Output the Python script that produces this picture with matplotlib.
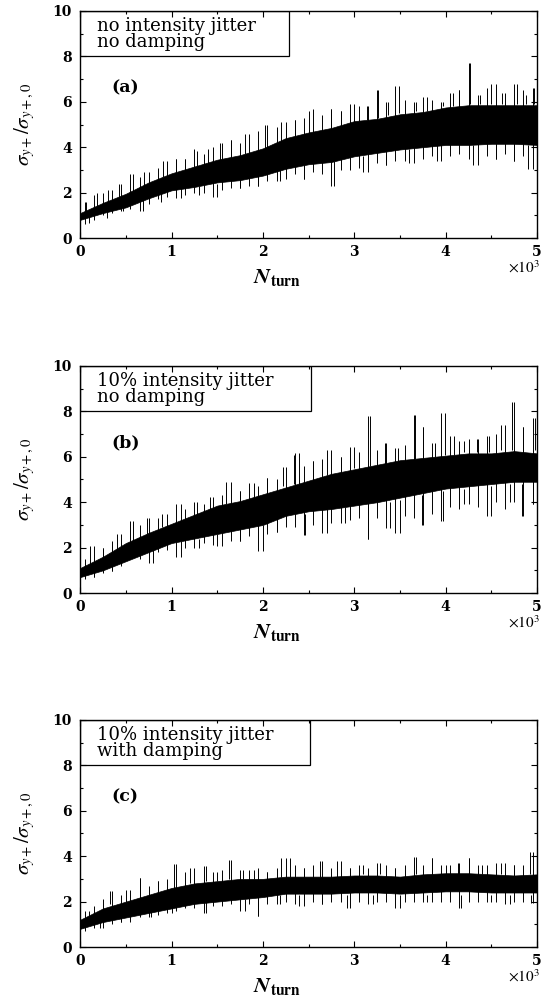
import matplotlib
matplotlib.use('Agg')
import numpy as np
import matplotlib.pyplot as plt
from matplotlib.patches import Rectangle
from matplotlib.ticker import MultipleLocator, FuncFormatter

plt.rcParams['mathtext.fontset'] = 'stix'
plt.rcParams['font.family'] = ['DejaVu Serif', 'Liberation Serif']

# sample positions for the dense part of the trace (turns)
core_x = [0, 250, 500, 750, 1000, 1250, 1500, 1750, 2000, 2250, 2500,
          2750, 3000, 3250, 3500, 3750, 4000, 4250, 4500, 4750, 5000]
# 100-turn bins: min / max of the trace inside each bin
bin_x = np.arange(50, 5000, 100)

# panel (a): no intensity jitter, no damping
a_lo = [0.8, 1.1, 1.35, 1.75, 2.1, 2.25, 2.45, 2.55, 2.75, 3.05, 3.25,
        3.35, 3.6, 3.75, 3.9, 4.0, 4.1, 4.1, 4.15, 4.15, 4.1]
a_hi = [1.1, 1.55, 1.95, 2.45, 2.85, 3.15, 3.45, 3.65, 3.95, 4.4, 4.65,
        4.85, 5.15, 5.25, 5.45, 5.55, 5.75, 5.85, 5.85, 5.85, 5.85]
a_bin_hi = [1.6, 1.9, 2.0, 2.1, 2.4, 2.8, 2.7, 2.9, 3.1, 3.4,
            3.5, 3.5, 3.9, 3.7, 4.0, 4.2, 4.3, 4.2, 4.6, 4.7,
            5.0, 4.9, 5.1, 5.2, 5.3, 5.7, 5.4, 5.7, 5.6, 5.9,
            5.8, 5.8, 6.5, 6.0, 6.7, 6.1, 6.0, 6.2, 6.1, 6.0,
            6.4, 6.5, 7.7, 6.3, 6.6, 6.8, 6.4, 6.8, 6.5, 6.6]
a_bin_lo = [0.6, 0.8, 1.0, 1.1, 1.2, 1.3, 1.2, 1.5, 1.7, 1.8,
            1.75, 1.9, 2.0, 2.0, 1.8, 2.1, 2.2, 2.2, 2.3, 2.3,
            2.5, 2.5, 2.6, 2.8, 2.6, 2.9, 2.8, 2.3, 3.0, 3.0,
            3.1, 2.9, 3.3, 3.2, 3.4, 3.4, 3.3, 3.5, 3.6, 3.4,
            3.6, 3.7, 3.5, 3.2, 3.6, 3.5, 3.7, 3.4, 3.6, 3.05]
a_spk_x = [60, 180, 300, 420, 580, 700, 910, 1050, 1150, 1280, 1400, 1530, 1650, 1800,
           2020, 2200, 2350, 2500, 2740, 2850, 3000, 3140, 3260, 3370, 3490, 3670,
           3800, 3970, 4080, 4150, 4270, 4380, 4500, 4620, 4780, 4880, 4970,
           100, 290, 470, 690, 880, 1100, 1300, 1500, 1750, 1950, 2190, 2450, 2780,
           3100, 3350, 3600, 3900, 4300, 4550, 4750, 4900]
a_spk_lo = [1.0, 1.3, 1.5, 1.7, 2.0, 2.2, 2.7, 2.8, 2.9, 3.1, 3.2, 3.4, 3.5, 3.7,
            3.9, 4.2, 4.4, 4.6, 4.8, 4.9, 5.1, 5.2, 5.3, 5.4, 5.5, 5.6,
            5.6, 5.8, 5.8, 5.9, 5.9, 5.9, 5.9, 5.9, 5.9, 5.9, 5.9,
            0.65, 0.9, 1.2, 1.2, 1.6, 1.75, 1.9, 1.8, 2.2, 2.3, 2.5, 2.6, 2.3,
            2.9, 3.2, 3.3, 3.4, 3.2, 3.5, 3.4, 3.05]
a_spk_hi = [1.6, 2.0, 2.1, 2.4, 2.8, 2.9, 3.4, 3.5, 3.5, 3.85, 3.9, 4.2, 4.3, 4.6,
            5.0, 5.1, 5.2, 5.6, 5.7, 5.6, 5.9, 5.8, 6.5, 6.0, 6.7, 6.0,
            6.2, 6.0, 6.4, 6.5, 7.7, 6.3, 6.8, 6.4, 6.8, 6.3, 6.6,
            1.0, 1.2, 1.4, 1.7, 2.0, 2.2, 2.3, 2.4, 2.6, 2.7, 3.0, 3.2, 3.4,
            3.6, 3.7, 3.9, 4.1, 4.1, 4.1, 4.1, 4.1]

# panel (b): 10% intensity jitter, no damping
b_lo = [0.7, 1.0, 1.4, 1.8, 2.2, 2.4, 2.6, 2.8, 3.0, 3.4, 3.6,
        3.7, 3.85, 4.0, 4.2, 4.4, 4.6, 4.7, 4.8, 4.9, 4.9]
b_hi = [1.1, 1.6, 2.2, 2.65, 3.05, 3.45, 3.85, 4.05, 4.35, 4.65, 4.95,
        5.25, 5.45, 5.65, 5.85, 5.95, 6.05, 6.15, 6.15, 6.25, 6.15]
b_bin_hi = [1.5, 2.05, 2.0, 2.3, 2.6, 3.15, 3.0, 3.3, 3.3, 3.5,
            3.9, 3.7, 4.0, 3.9, 4.25, 4.3, 4.9, 4.5, 4.85, 4.7,
            5.05, 5.0, 5.57, 6.15, 5.6, 5.8, 5.9, 6.3, 6.0, 6.45,
            6.2, 7.8, 6.3, 6.6, 6.4, 6.5, 7.85, 7.3, 6.6, 7.95,
            6.9, 6.7, 6.8, 6.8, 6.9, 7.0, 7.4, 8.4, 7.3, 7.7]
b_bin_lo = [0.6, 0.7, 0.9, 0.95, 1.2, 1.5, 1.5, 1.3, 1.8, 1.9,
            1.6, 2.0, 2.0, 2.2, 2.1, 2.05, 2.3, 2.3, 2.5, 1.83,
            2.6, 2.7, 2.9, 2.9, 2.55, 3.0, 2.65, 3.1, 3.1, 3.2,
            3.3, 2.4, 3.3, 2.85, 2.65, 3.4, 3.3, 3.0, 3.5, 3.15,
            3.8, 3.7, 3.9, 3.8, 3.4, 4.0, 3.7, 4.0, 3.4, 3.9]
b_spk_x = [110, 250, 400, 580, 730, 900, 1100, 1280, 1420, 1600, 1750, 1900, 2050,
           2220, 2340, 2390, 2550, 2700, 2850, 3000, 3170, 3340, 3480, 3660, 3750,
           3880, 3990, 4090, 4200, 4340, 4470, 4600, 4730, 4850, 4980,
           150, 350, 800, 1100, 1300, 1500, 1750, 2000, 2150, 2460, 2700, 2900,
           3150, 3390, 3500, 3740, 3970, 4200, 4500, 4700, 4840, 4960]
b_spk_lo = [1.1, 1.5, 1.9, 2.2, 2.6, 2.9, 3.1, 3.4, 3.7, 3.9, 4.0, 4.2, 4.4,
            4.7, 4.8, 4.8, 5.0, 5.2, 5.4, 5.5, 5.6, 5.7, 5.8, 5.9, 6.0,
            6.0, 6.1, 6.1, 6.2, 6.2, 6.2, 6.3, 6.3, 6.3, 6.3,
            0.7, 0.95, 1.3, 1.6, 2.0, 2.05, 2.3, 1.83, 2.7, 2.55, 2.65, 3.1,
            2.4, 2.85, 2.65, 3.0, 3.15, 3.9, 3.4, 4.0, 3.4, 3.9]
b_spk_hi = [2.05, 2.0, 2.6, 3.15, 3.3, 3.5, 3.9, 4.0, 4.25, 4.9, 4.5, 4.85, 5.05,
            5.57, 6.1, 6.15, 5.8, 6.3, 6.0, 6.45, 7.8, 6.6, 6.4, 7.85, 7.3,
            6.6, 7.95, 6.9, 6.7, 6.8, 6.9, 7.4, 8.4, 7.3, 7.7,
            0.9, 1.2, 1.9, 2.3, 2.4, 2.6, 2.8, 3.0, 3.2, 3.5, 3.7, 3.8,
            3.9, 4.0, 4.1, 4.3, 4.5, 4.6, 4.7, 4.8, 4.8, 4.8]

# panel (c): 10% intensity jitter, with damping
c_lo = [0.8, 1.1, 1.3, 1.5, 1.7, 1.9, 2.0, 2.1, 2.2, 2.35, 2.35,
        2.35, 2.4, 2.4, 2.35, 2.4, 2.45, 2.45, 2.4, 2.4, 2.4]
c_hi = [1.2, 1.7, 2.0, 2.3, 2.6, 2.8, 2.9, 3.0, 3.0, 3.1, 3.1,
        3.1, 3.15, 3.15, 3.1, 3.2, 3.25, 3.25, 3.2, 3.15, 3.2]
c_bin_hi = [1.6, 1.8, 2.1, 2.45, 2.3, 2.5, 3.05, 2.7, 2.9, 3.0,
            3.65, 3.3, 3.5, 3.55, 3.3, 3.4, 3.85, 3.4, 3.4, 3.5,
            3.3, 3.5, 3.9, 3.6, 3.5, 3.6, 3.8, 3.5, 3.8, 3.5,
            3.6, 3.5, 3.7, 3.6, 3.5, 3.6, 3.95, 3.6, 3.9, 3.6,
            3.6, 3.7, 3.9, 3.6, 3.6, 3.7, 3.7, 3.6, 3.6, 4.2]
c_bin_lo = [0.7, 0.85, 0.85, 1.0, 1.1, 1.1, 1.3, 1.3, 1.4, 1.5,
            1.6, 1.7, 1.7, 1.5, 1.8, 1.8, 1.9, 1.6, 1.9, 1.35,
            1.9, 1.9, 2.0, 1.9, 1.8, 2.0, 1.9, 2.0, 2.0, 1.7,
            2.0, 1.9, 2.0, 2.0, 1.7, 2.0, 2.0, 2.0, 2.0, 2.0,
            2.0, 1.7, 2.0, 2.0, 2.0, 2.0, 1.9, 2.0, 2.0, 1.95]
c_spk_x = [100, 330, 500, 660, 850, 1030, 1200, 1380, 1500, 1630, 1780, 1900, 2050,
           2200, 2300, 2450, 2620, 2810, 2950, 3100, 3280, 3450, 3670, 3850, 4000,
           4130, 4260, 4400, 4600, 4750, 4920,
           220, 450, 780, 1000, 1380, 1800, 1950, 2190, 2400, 2650, 2920, 3200,
           3500, 3800, 4170, 4500, 4700, 4930]
c_spk_lo = [1.2, 1.9, 2.0, 2.3, 2.5, 2.6, 2.8, 2.9, 2.9, 3.0, 3.0, 3.0, 3.0,
            3.1, 3.1, 3.1, 3.1, 3.1, 3.2, 3.2, 3.2, 3.2, 3.2, 3.2, 3.2,
            3.2, 3.2, 3.2, 3.2, 3.2, 3.2,
            0.85, 1.1, 1.3, 1.5, 1.5, 1.6, 1.35, 1.9, 1.8, 1.9, 1.7, 1.9,
            1.7, 2.0, 1.7, 2.0, 1.9, 1.95]
c_spk_hi = [1.6, 2.45, 2.5, 3.05, 2.9, 3.65, 3.5, 3.55, 3.3, 3.85, 3.4, 3.4, 3.3,
            3.9, 3.9, 3.5, 3.8, 3.8, 3.5, 3.6, 3.7, 3.5, 3.95, 3.9, 3.6,
            3.7, 3.9, 3.6, 3.7, 3.6, 4.2,
            1.1, 1.4, 1.7, 1.8, 2.0, 2.1, 2.1, 2.3, 2.3, 2.3, 2.3, 2.3,
            2.3, 2.3, 2.3, 2.3, 2.3, 2.3]

panels = [
    ('(a)', 'no intensity jitter\nno damping', 2290,
     a_lo, a_hi, a_bin_lo, a_bin_hi, a_spk_x, a_spk_lo, a_spk_hi),
    ('(b)', '10% intensity jitter\nno damping', 2530,
     b_lo, b_hi, b_bin_lo, b_bin_hi, b_spk_x, b_spk_lo, b_spk_hi),
    ('(c)', '10% intensity jitter\nwith damping', 2510,
     c_lo, c_hi, c_bin_lo, c_bin_hi, c_spk_x, c_spk_lo, c_spk_hi),
]

fig = plt.figure(figsize=(5.45, 9.98), dpi=100)
bottoms = [0.7615, 0.4058, 0.0511]
height = 0.2275

for (tag, note, box_w, lo, hi, blo, bhi, sx, slo, shi), b in zip(panels, bottoms):
    ax = fig.add_axes([0.147, b, 0.8385, height])
    ax.fill_between(core_x, lo, hi, color='black', lw=0.5)
    ax.vlines(bin_x, blo, bhi, color='black', lw=0.7)
    ax.vlines(sx, slo, shi, color='black', lw=0.7)

    ax.add_patch(Rectangle((0, 8), box_w, 2, fill=False, ec='black', lw=0.9))
    ax.text(190, 8.97, note, fontsize=13, va='center', ha='left', linespacing=0.85)
    ax.text(340, 6.6, tag, fontsize=12.5, fontweight='bold', va='center', ha='left')

    ax.set_xlim(0, 5000)
    ax.set_ylim(0, 10)
    ax.xaxis.set_major_locator(MultipleLocator(1000))
    ax.xaxis.set_minor_locator(MultipleLocator(500))
    ax.yaxis.set_major_locator(MultipleLocator(2))
    ax.yaxis.set_minor_locator(MultipleLocator(1))
    ax.xaxis.set_major_formatter(FuncFormatter(lambda v, p: '%d' % round(v / 1000)))
    ax.tick_params(which='both', direction='in', top=True, right=True, width=0.8)
    ax.tick_params(which='major', length=4)
    ax.tick_params(which='minor', length=2.5)
    ax.tick_params(axis='x', pad=5)
    ax.tick_params(axis='y', pad=6)
    for lab in ax.get_xticklabels() + ax.get_yticklabels():
        lab.set_fontweight('bold')
        lab.set_fontsize(10)
    for sp in ax.spines.values():
        sp.set_linewidth(1.0)

    ax.set_ylabel(r'$\sigma_{y+}/\sigma_{y+,0}$', fontsize=15)
    ax.yaxis.set_label_coords(-0.095, 0.5)
    ax.text(0.43, -0.17, r'$\mathbfit{N}_{\mathbf{turn}}$', transform=ax.transAxes,
            fontsize=16, ha='center', va='center')
    ax.text(1.005, -0.13, r'$\times10^{3}$', transform=ax.transAxes,
            fontsize=11, ha='right', va='center', family='DejaVu Sans')

fig.savefig('out.png', dpi=100)
